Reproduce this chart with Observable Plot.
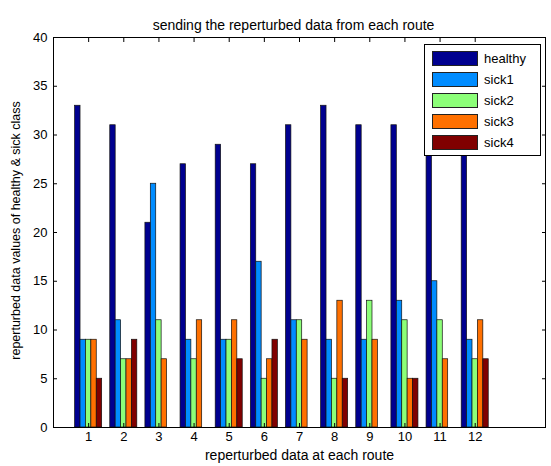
<!DOCTYPE html>
<html>
<head>
<meta charset="utf-8">
<script src="https://cdn.jsdelivr.net/npm/d3@7"></script>
<script src="https://cdn.jsdelivr.net/npm/@observablehq/plot@0.6"></script>
<style>
  body { margin: 0; background: #fff; font-family: "Liberation Sans", Arial, sans-serif; }
  #wrap { position: relative; width: 551px; height: 466px; }
  #legend { position: absolute; left: 424px; top: 44px; width: 117px; height: 112px;
    border: 1px solid #000; background: #fff; box-sizing: border-box; }
  .row { position: absolute; left: 7px; height: 16px; display: flex; align-items: center; font-size: 13px; }
  .sw { width: 46px; height: 15px; border: 1px solid #222; box-sizing: border-box; margin-right: 6px; }
</style>
</head>
<body>
<div id="wrap"></div>
<script>
const routes = [1,2,3,4,5,6,7,8,9,10,11,12];
const series = ["healthy","sick1","sick2","sick3","sick4"];
const healthy = [33,31,21,27,29,27,31,33,31,31,31,29];
const sick1   = [9,11,25,9,9,17,11,9,9,13,15,9];
const sick2   = [9,7,11,7,9,5,11,5,13,11,11,7];
const sick3   = [9,7,7,11,11,7,9,13,9,5,7,11];
const sick4   = [5,9,0,0,7,9,0,5,0,5,0,7];
const colors  = ["#00008f","#008cff","#8cff78","#ff7000","#800000"];
const xTicks = routes;
const yTicks = [0,5,10,15,20,25,30,35,40];

const values = [healthy, sick1, sick2, sick3, sick4];
const groupWidth = 5 / 6.5;
const barW = groupWidth / series.length;
const bars = [];
routes.forEach((r, i) => {
  series.forEach((s, j) => {
    const v = values[j][i];
    if (v > 0) bars.push({route: r, series: s, value: v,
      x1: r - groupWidth / 2 + j * barW, x2: r - groupWidth / 2 + (j + 1) * barW});
  });
});

const chart = Plot.plot({
  width: 551, height: 466,
  marginLeft: 53, marginRight: 6, marginTop: 37, marginBottom: 39,
  style: {fontFamily: "'Liberation Sans', Arial, sans-serif", fontSize: "12px", color: "#000", background: "#fff"},
  x: {domain: [0, 14], axis: null},
  y: {domain: [0, 40], axis: null},
  color: {domain: series, range: colors},
  marks: [
    Plot.rect(bars, {x1: "x1", x2: "x2", y1: 0, y2: "value", fill: "series", stroke: "#111", strokeWidth: 0.7}),
    Plot.axisX({anchor: "bottom", ticks: xTicks, tickSize: -4, tickFormat: () => "", label: null}),
    Plot.axisX({anchor: "bottom", ticks: xTicks, tickSize: 0, tickPadding: 4, fontSize: 13, label: null}),
    Plot.axisX({anchor: "top", ticks: xTicks, tickSize: -4, tickFormat: () => "", label: null}),
    Plot.axisY({anchor: "left", ticks: yTicks, tickSize: -4, tickFormat: () => "", label: null}),
    Plot.axisY({anchor: "left", ticks: yTicks, tickSize: 0, tickPadding: 6, fontSize: 13, label: null}),
    Plot.axisY({anchor: "right", ticks: yTicks, tickSize: -4, tickFormat: () => "", label: null}),
    Plot.frame({stroke: "#000", strokeWidth: 1}),
    Plot.text(["sending the reperturbed data from each route"], {frameAnchor: "top", dx: -6, dy: -17, fontSize: 14}),
    Plot.text(["reperturbed data at each route"], {frameAnchor: "bottom", dy: 32, fontSize: 14}),
    Plot.text(["reperturbed data values of healthy & sick class"], {frameAnchor: "left", textAnchor: "middle", dx: -38, dy: -2, rotate: -90, fontSize: 12.5})
  ]
});
const wrap = document.getElementById("wrap");
wrap.appendChild(chart);

const legend = document.createElement("div");
legend.id = "legend";
series.forEach((s, j) => {
  const row = document.createElement("div");
  row.className = "row";
  row.style.top = (5 + j * 21.2) + "px";
  const sw = document.createElement("div");
  sw.className = "sw";
  sw.style.background = colors[j];
  const t = document.createElement("span");
  t.textContent = s;
  row.appendChild(sw); row.appendChild(t);
  legend.appendChild(row);
});
wrap.appendChild(legend);
</script>
</body>
</html>
